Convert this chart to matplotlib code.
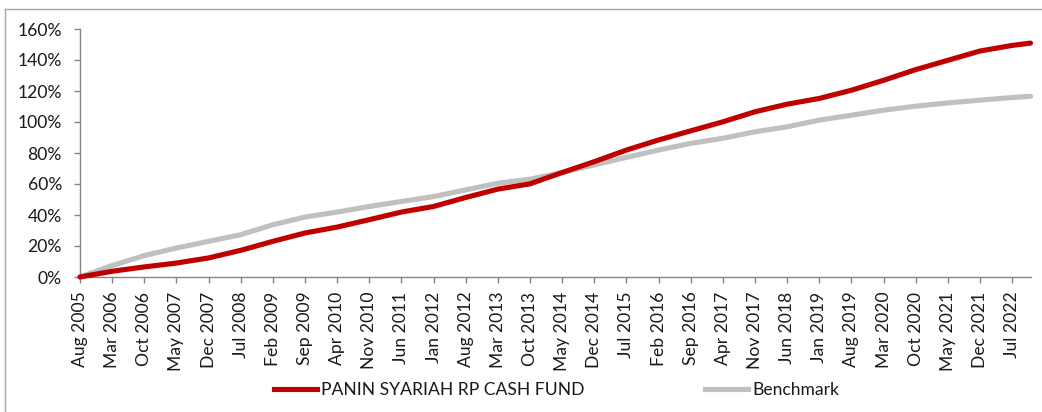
import matplotlib
matplotlib.use("Agg")
import matplotlib.pyplot as plt
from matplotlib.lines import Line2D
import pandas as pd

plt.rcParams['font.family'] = ['Lato', 'DejaVu Sans']

# Data (values in %)
dates = ["2005-08", "2006-03", "2006-10", "2007-05", "2007-12", "2008-07",
         "2009-02", "2009-09", "2010-04", "2010-11", "2011-06", "2012-01",
         "2012-08", "2013-03", "2013-10", "2014-05", "2014-12", "2015-07",
         "2016-02", "2016-09", "2017-04", "2017-11", "2018-06", "2019-01",
         "2019-08", "2020-03", "2020-10", "2021-05", "2021-12", "2022-07",
         "2022-11"]
fund = [0.0, 3.7, 6.5, 9.0, 12.3, 17.2, 23.0, 28.4, 32.2, 37.0, 41.9, 45.5,
        51.3, 56.7, 60.1, 67.4, 74.4, 81.9, 88.4, 94.3, 100.1, 106.6, 111.5,
        115.2, 120.5, 126.9, 133.8, 139.8, 145.8, 149.4, 150.9]
bench = [0.0, 7.4, 13.8, 18.7, 23.0, 27.3, 33.7, 38.7, 41.9, 45.5, 48.7, 51.9,
         56.2, 60.5, 63.1, 67.4, 72.3, 77.2, 81.9, 86.2, 89.5, 93.7, 96.9,
         101.2, 104.4, 107.6, 110.2, 112.3, 114.1, 115.8, 116.6]
tick_labels = ["Aug 2005", "Mar 2006", "Oct 2006", "May 2007", "Dec 2007",
               "Jul 2008", "Feb 2009", "Sep 2009", "Apr 2010", "Nov 2010",
               "Jun 2011", "Jan 2012", "Aug 2012", "Mar 2013", "Oct 2013",
               "May 2014", "Dec 2014", "Jul 2015", "Feb 2016", "Sep 2016",
               "Apr 2017", "Nov 2017", "Jun 2018", "Jan 2019", "Aug 2019",
               "Mar 2020", "Oct 2020", "May 2021", "Dec 2021", "Jul 2022"]
series_names = ["PANIN SYARIAH RP CASH FUND", "Benchmark"]

dt = pd.to_datetime(dates)
x = (dt.year - dt[0].year) * 12 + (dt.month - dt[0].month)
tdt = pd.to_datetime(tick_labels, format="%b %Y")
tx = (tdt.year - dt[0].year) * 12 + (tdt.month - dt[0].month)

W, H = 1042, 412
fig = plt.figure(figsize=(W / 100, H / 100), dpi=100)
ax = fig.add_axes([80 / W, 1 - 277 / H, (1030.5 - 80) / W, (277 - 29) / H])

red = "#C00000"
grey = "#C0C0C0"
lw = 3.7
ax.plot(x, bench, color=grey, lw=lw, solid_capstyle='round', zorder=2)
ax.plot(x, fund, color=red, lw=lw, solid_capstyle='round', zorder=3)

ax.set_xlim(x[0], x[-1])
ax.set_ylim(0, 160)
ax.set_yticks(range(0, 161, 20))
ax.set_yticklabels([f"{v}%" for v in range(0, 161, 20)])
ax.set_xticks(tx)
ax.set_xticklabels(tick_labels, rotation=90)

spc = "#868686"
for s in ['top', 'right']:
    ax.spines[s].set_visible(False)
for s in ['left', 'bottom']:
    ax.spines[s].set_color(spc)
    ax.spines[s].set_linewidth(1.0)
ax.tick_params(axis='both', colors=spc, length=4, width=1.0, direction='out',
               labelsize=12.6, labelcolor='#1a1a1a')
ax.tick_params(axis='y', pad=9.0)
ax.tick_params(axis='x', pad=6.5)
for ln in ax.get_lines():
    ln.set_clip_on(False)

# legend
handles = [Line2D([], [], color=red, lw=lw),
           Line2D([], [], color=grey, lw=lw)]
leg = fig.legend(handles, series_names, loc='center', ncol=2,
                 bbox_to_anchor=(556.5 / W, 1 - 390 / H), frameon=False,
                 prop={'size': 12.6}, handlelength=2.45, handletextpad=0.25,
                 columnspacing=6.9, labelcolor='#1a1a1a')

# outer border (left and top visible)
fig.add_artist(Line2D([4.5 / W, 4.5 / W], [0, 1 - 9 / H], color="#A6A6A6", lw=1.0))
fig.add_artist(Line2D([4.5 / W, 1], [1 - 9 / H, 1 - 9 / H], color="#A6A6A6", lw=1.0))

fig.savefig("out.png", dpi=100)
